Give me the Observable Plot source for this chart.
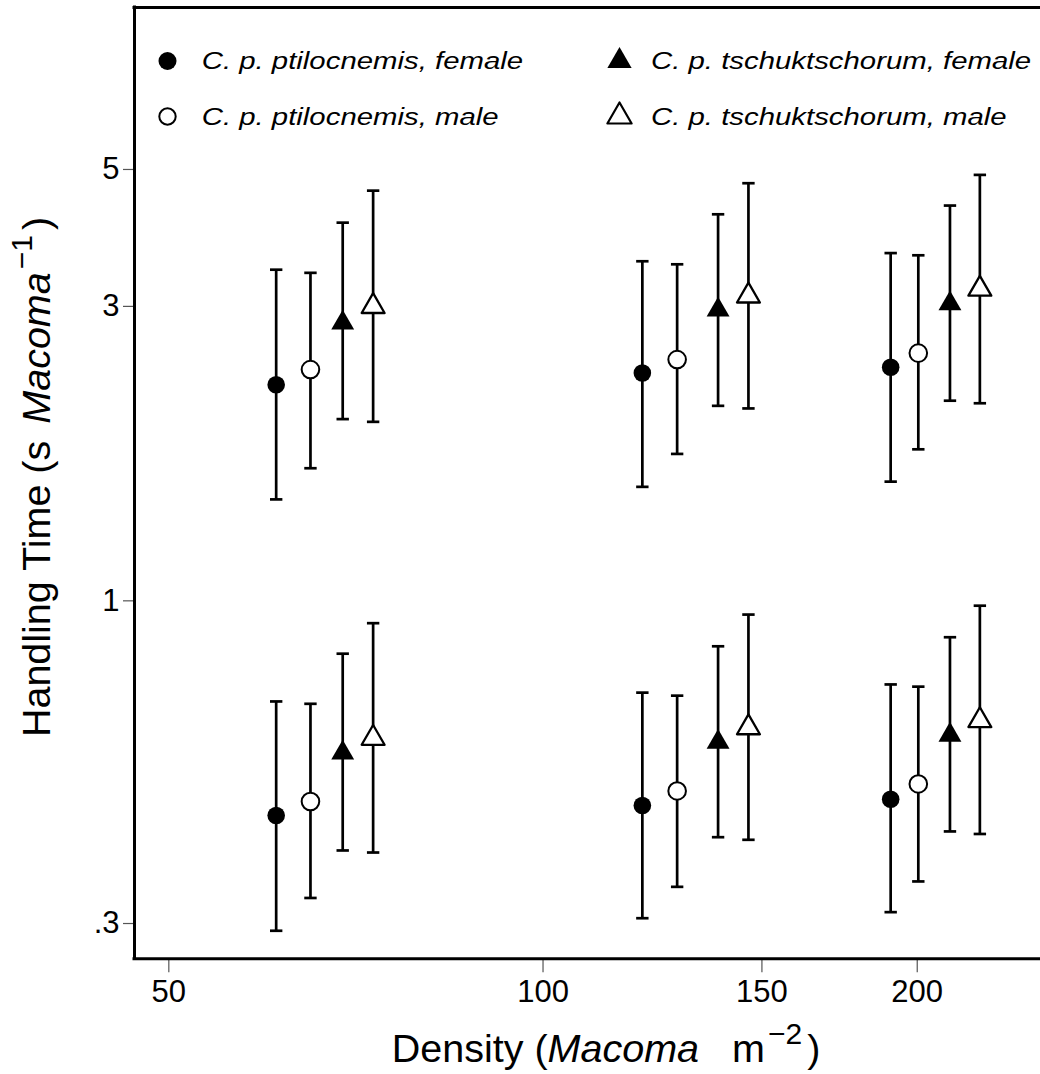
<!DOCTYPE html>
<html><head><meta charset="utf-8">
<script src="https://cdn.jsdelivr.net/npm/d3@7"></script>
<script src="https://cdn.jsdelivr.net/npm/@observablehq/plot@0.6"></script>
<style>
html,body{margin:0;padding:0;background:#fff;overflow:hidden;}
</style></head><body><div id="chart"></div>
<script>
// ---- data ----
const series = ["C. p. ptilocnemis, female", "C. p. ptilocnemis, male", "C. p. tschuktschorum, female", "C. p. tschuktschorum, male"];
const symbols = ["circle", "circle", "triangle", "triangle"];
const fills = ["black", "white", "black", "white"];
// prey density (Macoma m^-2) of each point (dodged per series) at the three density levels
const density = [
  [61.0, 120.2, 190.4],
  [65.0, 128.2, 200.4],
  [69.0, 138.3, 212.5],
  [73.0, 146.3, 224.6]
];
// upper group (larger handling times)
const largeMean = [[2.24, 2.34, 2.39], [2.37, 2.46, 2.52], [2.82, 2.96, 3.03], [3.00, 3.12, 3.20]];
const largeLow  = [[1.46, 1.53, 1.56], [1.64, 1.73, 1.76], [1.97, 2.07, 2.11], [1.95, 2.05, 2.09]];
const largeHigh = [[3.44, 3.55, 3.66], [3.40, 3.51, 3.63], [4.10, 4.23, 4.37], [4.62, 4.75, 4.90]];
// lower group (smaller handling times)
const smallMean = [[0.449, 0.466, 0.477], [0.473, 0.492, 0.505], [0.567, 0.590, 0.606], [0.599, 0.623, 0.640]];
const smallLow  = [[0.292, 0.306, 0.313], [0.330, 0.344, 0.351], [0.394, 0.414, 0.423], [0.391, 0.410, 0.419]];
const smallHigh = [[0.687, 0.710, 0.732], [0.681, 0.702, 0.726], [0.821, 0.844, 0.873], [0.920, 0.950, 0.982]];
const xTicks = [50, 100, 150, 200];
const yTicks = [0.3, 1, 3, 5];
const xDomain = [46.92, 251.3];
const yDomain = [0.263, 9.15];

// ---- build table ----
const rows = [];
series.forEach((s, i) => {
  density[i].forEach((d, j) => {
    rows.push({series: s, i, density: d, group: "large", mean: largeMean[i][j], low: largeLow[i][j], high: largeHigh[i][j]});
    rows.push({series: s, i, density: d, group: "small", mean: smallMean[i][j], low: smallLow[i][j], high: smallHigh[i][j]});
  });
});

const W = 1040, H = 1074;
const FONT = "'Liberation Sans', Arial, Helvetica, sans-serif";
const capSymbol = {draw(ctx) { ctx.moveTo(-6.2, 0); ctx.lineTo(6.2, 0); }};
const R = {circle: 8.8, triangle: 8.5};

const pointMarks = series.map((s, i) => Plot.dot(rows.filter(d => d.i === i), {
  x: "density", y: "mean",
  symbol: symbols[i],
  r: R[symbols[i]],
  fill: fills[i],
  stroke: fills[i] === "white" ? "black" : "none",
  strokeWidth: symbols[i] === "circle" ? 2 : 2.3,
  strokeLinejoin: "round"
}));

const plot = Plot.plot({
  width: W, height: H,
  marginLeft: 134, marginRight: 0, marginTop: 7, marginBottom: H - 958.3,
  x: {type: "log", domain: xDomain},
  y: {type: "log", domain: yDomain},
  style: {fontFamily: FONT, color: "black", background: "white"},
  marks: [
    Plot.axisX({ticks: xTicks, tickFormat: d => String(d), tickSize: 14, tickPadding: 7, label: null, fontSize: 31, stroke: "#555", strokeWidth: 1.2}),
    Plot.axisY({ticks: yTicks, tickFormat: d => d < 1 ? String(d).replace(/^0/, "") : String(d), tickSize: 11, tickPadding: 4, label: null, fontSize: 31, stroke: "#555", strokeWidth: 1.2}),
    Plot.ruleX(rows, {x: "density", y1: "low", y2: "high", stroke: "black", strokeWidth: 2.7}),
    Plot.dot(rows, {x: "density", y: "low", symbol: capSymbol, fill: "none", stroke: "black", strokeWidth: 2.7}),
    Plot.dot(rows, {x: "density", y: "high", symbol: capSymbol, fill: "none", stroke: "black", strokeWidth: 2.7}),
    ...pointMarks,
    // frame: left, top, bottom (right side lies beyond the picture)
    Plot.ruleX([xDomain[0]], {stroke: "black", strokeWidth: 3, strokeLinecap: "square"}),
    Plot.ruleY([yDomain[0], yDomain[1]], {stroke: "black", strokeWidth: 3, strokeLinecap: "square"})
  ]
});
document.getElementById("chart").appendChild(plot);

// ---- legend (inside frame, top) ----
const svg = d3.select(plot);
const legSymX = [167.5, 619.5], legTextX = [201.7, 651], legRowY = [61, 116.5];
const leg = svg.append("g").attr("font-family", FONT).attr("text-anchor", "start");
series.forEach((s, i) => {
  const col = i >= 2 ? 1 : 0, row = i % 2;
  const cx = legSymX[col], cy = legRowY[row];
  if (symbols[i] === "circle") {
    leg.append("circle").attr("cx", cx).attr("cy", cy).attr("r", fills[i] === "white" ? 8.2 : 9)
      .attr("fill", fills[i]).attr("stroke", fills[i] === "white" ? "black" : "none").attr("stroke-width", 2);
  } else {
    leg.append("path").attr("d", d3.symbol(d3.symbolTriangle, Math.PI * 9 * 9)())
      .attr("transform", `translate(${cx},${cy})`)
      .attr("fill", fills[i]).attr("stroke", fills[i] === "white" ? "black" : "none")
      .attr("stroke-width", 2.2).attr("stroke-linejoin", "round");
  }
  leg.append("text").attr("transform", `translate(${legTextX[col]},${cy}) scale(1.26,1)`)
    .attr("text-anchor", "start")
    .attr("dy", "0.358em").attr("font-size", 23.3).attr("font-style", "italic").attr("fill", "black").text(s);
});

// ---- axis titles ----
const xt = svg.append("text").attr("x", 606).attr("y", 1062).attr("text-anchor", "middle")
  .attr("font-family", FONT).attr("font-size", 39.5).attr("fill", "black");
xt.append("tspan").text("Density (");
xt.append("tspan").attr("font-style", "italic").text("Macoma");
xt.append("tspan").attr("dx", 33).text("m");
xt.append("tspan").attr("dx", 3).attr("dy", -18).attr("font-size", 30).text("\u22122");
xt.append("tspan").attr("dx", 5).attr("dy", 18).text(")");

const yt = svg.append("text").attr("transform", "translate(50,477) rotate(-90)").attr("text-anchor", "middle")
  .attr("font-family", FONT).attr("font-size", 39.5).attr("fill", "black");
yt.append("tspan").text("Handling Time (s");
yt.append("tspan").attr("dx", 17).attr("font-style", "italic").text("Macoma");
yt.append("tspan").attr("dx", 3).attr("dy", -18).attr("font-size", 30).text("\u22121");
yt.append("tspan").attr("dx", 5).attr("dy", 18).text(")");
</script>
</body></html>
